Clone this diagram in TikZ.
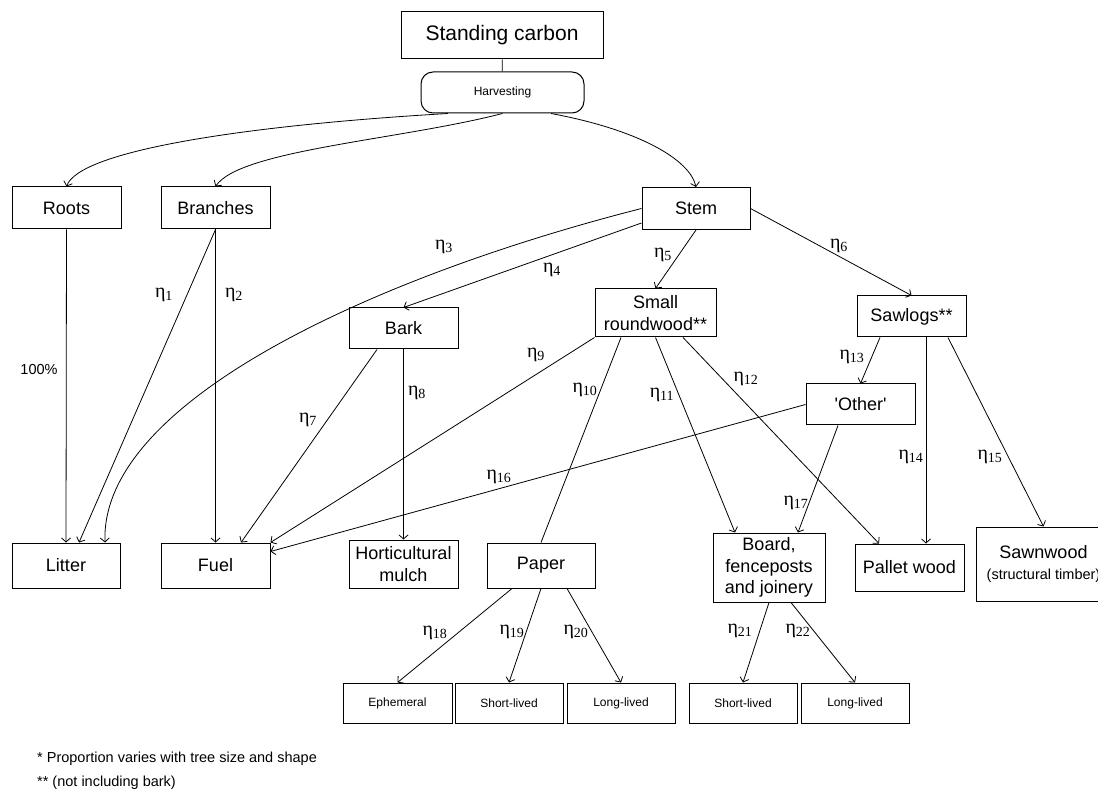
\documentclass[tikz,border=0pt]{standalone}
\usepackage{fontspec}
\setmainfont{Liberation Sans}
\newfontfamily\etafont{Liberation Serif}
\usetikzlibrary{arrows.meta}
\tikzstyle{box}=[draw, rectangle, line width=1pt, align=center, inner sep=0pt, minimum width=109pt, minimum height=42pt, font=\fontsize{18}{21.5}\selectfont]
\tikzstyle{smallbox}=[box, minimum height=40pt, font=\fontsize{12}{14}\selectfont]
\tikzstyle{line} = [draw, line width=0.8pt, -{Straight Barb[length=4pt,width=9pt]}]
\tikzstyle{plain} = [draw, line width=0.8pt]
\tikzstyle{eta}=[inner sep=0pt, font=\etafont\fontsize{20}{20}\selectfont]
\newcommand{\eff}[1]{η\textsubscript{#1}}

\begin{document}
\begin{tikzpicture}[x=1pt,y=-1pt]
  \useasboundingbox (0,0) rectangle (1098,791);

  \node[box, minimum width=202pt, minimum height=47pt, font=\fontsize{21}{24}\selectfont] (standing) at (502,35.5) {Standing carbon};
  \node[smallbox, rounded corners=12pt, minimum width=163pt, minimum height=41pt] (harvest) at (502.5,92.5) {Harvesting};

  \node[box] (roots) at (66.5,208) {Roots};
  \node[box] (branches) at (215.5,208) {Branches};
  \node[box, minimum width=108pt] (stem) at (696,208.5) {Stem};
	\node[box, minimum height=41pt] (bark) at (403.5,328.5) {Bark};
	\node[box, minimum width=121pt, minimum height=48pt] (roundwood) at (655.5,313) {Small\\roundwood**};
	\node[box, minimum height=41pt] (sawlogs) at (911.5,316.5) {Sawlogs**};
	\node[box, minimum height=41pt] (other) at (860.5,404.5) {\textquotesingle Other\textquotesingle};

	\node[box, minimum width=108pt, minimum height=45pt] (litter) at (66,565.5) {Litter};
	\node[box, minimum height=45pt] (fuel) at (215.5,565.5) {Fuel};
	\node[box, minimum height=48pt] (mulch) at (403.5,564) {Horticultural\\mulch};
	\node[box, minimum width=108pt, minimum height=45pt] (paper) at (541,565.5) {Paper};
	\node[box, minimum width=112pt, minimum height=69pt] (board) at (769,567.5) {Board,\\fenceposts\\and joinery};
	\node[box, minimum height=47pt] (pallet) at (909.5,567.5) {Pallet wood};
	\node[box, minimum width=135pt, minimum height=74pt] (sawnwood) at (1043.5,564) {Sawnwood\\{\fontsize{14.5}{16}\selectfont (structural timber)}};

	\node[smallbox] (ephemeral) at (397.5,703) {Ephemeral};
	\node[smallbox, minimum width=108pt] (papershort) at (509,703) {Short-lived};
	\node[smallbox, minimum width=108pt] (paperlong) at (621,703) {Long-lived};
	\node[smallbox, minimum width=108pt] (boardshort) at (743,703) {Short-lived};
	\node[smallbox, minimum width=108pt] (boardlong) at (855,703) {Long-lived};

  % harvesting
  \draw[plain] (standing) -- (harvest);
  \draw[line] ([xshift=-54.5pt]harvest.south) .. controls (250,125) and (80,150) .. (roots.north);
  \draw[line] (harvest.south) .. controls (400,140) and (240,150) .. (branches.north);
  \draw[line] ([xshift=48.5pt]harvest.south) .. controls (640,130) and (690,160) .. (stem.north);

  % roots and branches
  \draw[line] (roots.south) -- (litter.north);
  \draw[line] (branches.south) -- ([xshift=13pt]litter.north);
  \draw[line] (branches.south) -- (fuel.north);

  % stem
  \draw[line] (stem.west) .. controls (380,275) and (100,400) .. ([xshift=39pt]litter.north);
  \draw[line] ([yshift=-14.5pt]stem.west) -- (bark.north);
  \draw[line] (stem.south) -- (roundwood.north);
  \draw[line] (stem.east) -- (sawlogs.north);

  % bark
  \draw[line] ([xshift=-26.5pt]bark.south) -- ([xshift=25.5pt]fuel.north);
  \draw[line] (bark.south) -- (mulch.north);

  % small roundwood
  \draw[line] (roundwood.south west) -- (fuel.north east);
  \draw[plain] ([xshift=-34.5pt]roundwood.south) -- (paper.north);
  \draw[line] (roundwood.south) -- ([xshift=-34pt]board.north);
  \draw[line] ([xshift=27.5pt]roundwood.south) -- ([xshift=-30.5pt]pallet.north);

  % sawlogs
  \draw[line] ([xshift=-31.5pt]sawlogs.south) -- (other.north);
  \draw[line] ([xshift=14.5pt]sawlogs.south) -- ([xshift=16.5pt]pallet.north);
  \draw[line] ([xshift=36.5pt]sawlogs.south) -- (sawnwood.north);
  \draw[line] (other.west) -- ([yshift=-9pt]fuel.north east);
  \draw[line] ([xshift=-22.5pt]other.south) -- ([xshift=29pt]board.north);

  % end uses
  \draw[line] ([xshift=-29pt]paper.south) -- (ephemeral.north);
  \draw[line] (paper.south) -- (papershort.north);
  \draw[line] ([xshift=26pt]paper.south) -- (paperlong.north);
  \draw[line] (board.south) -- (boardshort.north);
  \draw[line] ([xshift=22pt]board.south) -- (boardlong.north);

  % labels
  \node[font=\fontsize{14.5}{16}\selectfont] (pctlabel) at (39,370) {100\%};
  \node[eta] (eta1label) at (164,295) {\eff{1}};
  \node[eta] (eta2label) at (234,295) {\eff{2}};
  \node[eta] (eta3label) at (444,247) {\eff{3}};
  \node[eta] (eta4label) at (552,270) {\eff{4}};
  \node[eta] (eta5label) at (663,255) {\eff{5}};
  \node[eta] (eta6label) at (839,246) {\eff{6}};
  \node[eta] (eta7label) at (308,420) {\eff{7}};
  \node[eta] (eta8label) at (417,393) {\eff{8}};
  \node[eta] (eta9label) at (536,355) {\eff{9}};
  \node[eta] (eta10label) at (585,390) {\eff{10}};
  \node[eta] (eta11label) at (662,395) {\eff{11}};
  \node[eta] (eta12label) at (746,379) {\eff{12}};
  \node[eta] (eta13label) at (852,357) {\eff{13}};
  \node[eta] (eta14label) at (911,457) {\eff{14}};
  \node[eta] (eta15label) at (990,457) {\eff{15}};
  \node[eta] (eta16label) at (499,477) {\eff{16}};
  \node[eta] (eta17label) at (796,503) {\eff{17}};
  \node[eta] (eta18label) at (435,633) {\eff{18}};
  \node[eta] (eta19label) at (512,632) {\eff{19}};
  \node[eta] (eta20label) at (576,632) {\eff{20}};
  \node[eta] (eta21label) at (740,631) {\eff{21}};
  \node[eta] (eta22label) at (798,631) {\eff{22}};

  % notes
  \node[anchor=west, inner sep=0pt, font=\fontsize{14.5}{16}\selectfont] (note1) at (37,759) {* Proportion varies with tree size and shape};
  \node[anchor=west, inner sep=0pt, font=\fontsize{14.5}{16}\selectfont] (note2) at (37,783) {** (not including bark)};
\end{tikzpicture}
\end{document}
